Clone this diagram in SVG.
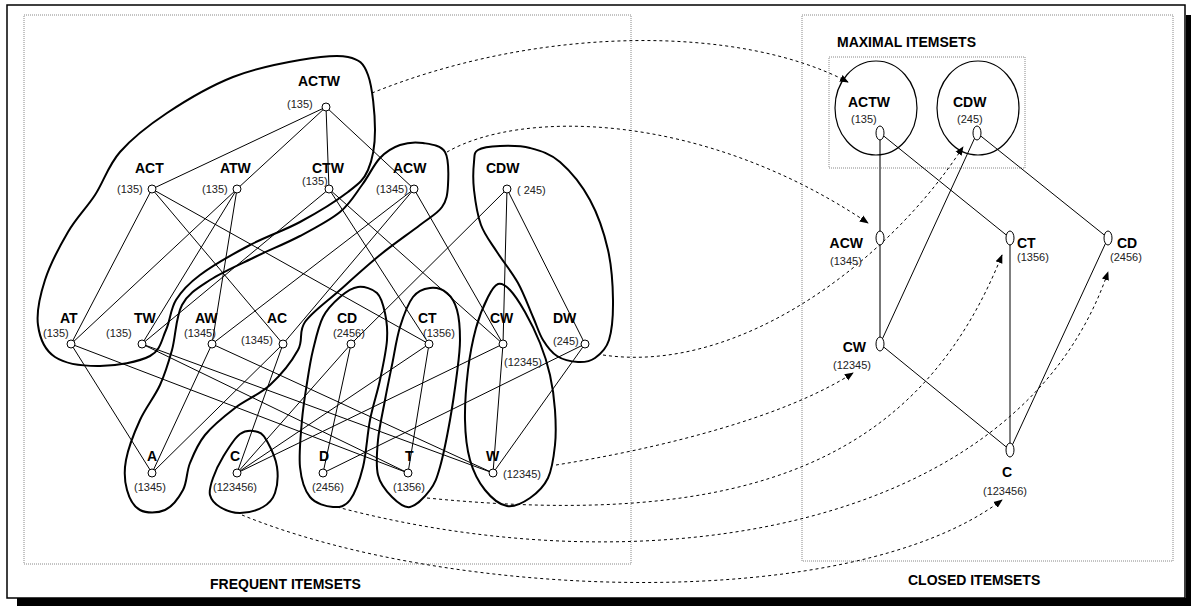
<svg xmlns="http://www.w3.org/2000/svg" width="1191" height="606" viewBox="0 0 1191 606">
<defs>
<marker id="ah" viewBox="0 0 10 10" refX="9" refY="5" markerWidth="9" markerHeight="9" markerUnits="userSpaceOnUse" orient="auto">
<path d="M0,1 L10,5 L0,9 Z" fill="#000"/>
</marker>
<style>
.lbl{font-family:"Liberation Sans",Arial,sans-serif;font-weight:bold;font-size:14px;fill:#000}
.cnt{font-family:"Liberation Sans",Arial,sans-serif;font-size:11px;fill:#222}
.ttl{font-family:"Liberation Sans",Arial,sans-serif;font-weight:bold;font-size:14px;fill:#000}
.e{stroke:#000;stroke-width:1;fill:none}
.hull{stroke:#000;stroke-width:2;fill:none}
.dash{stroke:#000;stroke-width:1;fill:none;stroke-dasharray:3,3;marker-end:url(#ah)}
.dashn{stroke:#000;stroke-width:1;fill:none;stroke-dasharray:3,3}
.n{fill:#fff;stroke:#000;stroke-width:1}
.box{fill:none;stroke:#888;stroke-width:1;stroke-dasharray:1,1}
</style>
</defs>
<rect x="0" y="0" width="1191" height="606" fill="#fff"/>
<!-- frame -->
<rect x="7" y="5" width="1178" height="593" fill="none" stroke="#000" stroke-width="1.5"/>
<rect x="17" y="598" width="1174" height="8" fill="#000"/>
<rect x="1186" y="15" width="5" height="591" fill="#000"/>
<!-- panels -->
<rect class="box" x="24" y="15" width="607" height="549"/>
<rect class="box" x="802" y="15" width="371" height="546"/>
<rect class="box" x="829" y="57" width="196" height="111"/>
<text class="ttl" x="210" y="589">FREQUENT ITEMSETS</text>
<text class="ttl" x="908" y="585">CLOSED ITEMSETS</text>
<text class="ttl" x="837" y="47">MAXIMAL ITEMSETS</text>

<g id="hulls">
<path class="hull" d="M300,60 C319.2,56.7 336.7,54.5 348,57 S363.5,62.8 368,75 S375,114.2 375,130 S372.5,159.7 368,170 S359.3,183.3 348,192 S316.3,213.2 300,222 S266.7,236.2 250,245 S212.3,265.8 200,275 S181.7,290.8 176,300 S170.3,320.7 166,330 S161,350 150,356 S115.8,365.8 100,366 S65.3,363.8 55,357 S39.7,337.8 38,325 S40,295.5 45,280 S59.7,246.2 68,232 S86.3,208.3 95,195 S108,165.7 120,152 S148.2,125.5 167,113 S210.8,85.8 233,77 S280.8,63.3 300,60 Z"/>
<path class="hull" d="M423,143 C430.5,144.2 440.8,145 445,152 S448.5,175.8 448,185 S446.7,200.3 442,207 S430.3,217 420,225 S393.3,244.2 380,255 S352.5,278.8 340,290 S312,312 305,322 S303.8,339.5 298,350 S280.5,375.3 270,385 S245.8,399.7 235,408 S212.5,425.8 205,435 S193.7,453.8 190,463 S187.2,482.2 183,490 S172.2,506.7 165,510 S146.3,513.3 140,510 S129.3,498.3 127,490 S123.8,471.7 126,460 S134.3,432.5 140,420 S154.7,396.7 160,385 S168.3,363.3 172,350 S175.7,316.7 182,305 S197.8,288 210,280 S240,264.3 255,257 S285.8,243.5 300,236 S329.7,220.5 340,212 S355.3,194 362,185 S373.7,164.7 380,158 S392.8,147.5 400,145 S415.5,141.8 423,143 Z"/>
<path class="hull" d="M478,150 C482.3,147.3 491.3,146.3 500,146 S520,145.3 530,148 S550,153.3 560,162 S582,185.3 590,200 S604.2,233.3 608,250 S612.8,285 613,300 S612,330.3 609,340 S600.2,354.3 595,358 S584.3,362.3 578,362 S562.8,359.7 557,356 S547,346.5 543,340 S537.2,326.5 533,317 S524,293.8 518,283 S503.2,261.7 497,252 S484.8,235.3 481,225 S475.2,200.5 474,190 S473.3,168.7 474,162 S473.7,152.7 478,150 Z"/>
<path class="hull" d="M498,284 C501.7,282.8 505.5,285.3 510,290 S520,303.2 525,312 S535.8,332.5 540,343 S547.5,363.8 550,375 S554.2,398.3 555,410 S556.2,433.7 555,445 S552.2,469.2 548,478 S536.8,493.3 530,498 S514.5,507.3 507,506 S491.2,497.7 485,490 S473.3,471.7 470,460 S465.3,435 465,420 S466.2,385.3 468,370 S472.7,340.2 476,328 S484.3,304.3 488,297 S494.3,285.2 498,284 Z"/>
<path class="hull" d="M430,288 C435.7,287.3 442.5,289.3 447,293 S454.8,302.2 457,310 S460,329.5 460,340 S458.7,359.7 457,373 S452.8,404.3 450,420 S443.3,455.3 440,467 S435,483.3 430,490 S416.3,505.8 410,507 S397.3,502.3 392,497 S380.3,484.5 378,475 S376.8,452.5 378,440 S382.7,412.5 385,400 S389.5,377.2 392,365 S396.5,338.3 400,327 S408,303.5 413,297 S424.3,288.7 430,288 Z"/>
<path class="hull" d="M358,287 C364.2,286.3 372.5,288.7 377,293 S383.3,305.2 385,313 S387.8,328.8 387,340 S382.8,366.7 380,380 S372.8,405.5 370,420 S366.3,453.7 363,467 S355,493.3 350,500 S339.7,507.5 333,507 S315.5,503.7 310,497 S301.3,479.8 300,467 S300.8,434 302,420 S305.2,394.7 307,383 S310.3,361 313,350 S318.5,325.8 323,317 S334.2,302 340,297 S351.8,287.7 358,287 Z"/>
<path class="hull" d="M258,432 C262.7,433.5 264.8,437.2 268,443 S275.8,458.7 277,467 S277.3,486.3 275,493 S268.8,503.7 263,507 S247.2,513 240,513 S225,510 220,507 S211.2,499.8 210,495 S210.8,484.3 213,478 S218.5,464.3 223,457 S234.2,438.2 240,434 S253.3,430.5 258,432 Z"/>
</g>

<g id="connectors">
<!-- left lattice -->
<path class="e" d="M326,107 L152,189 M326,107 L237,189 M326,107 L329,189 M326,107 L414,189
M152,189 L71,344 M152,189 L283,344 M152,189 L429,344
M237,189 L71,344 M237,189 L142,344 M237,189 L212,344
M329,189 L142,344 M329,189 L429,344 M329,189 L503,344
M414,189 L212,344 M414,189 L283,344 M414,189 L503,344
M507,189 L351,344 M507,189 L503,344 M507,189 L585,344
M71,344 L152,473 M71,344 L408,473
M142,344 L408,473 M142,344 L493,473
M212,344 L152,473 M212,344 L493,473
M283,344 L152,473 M283,344 L237,473
M351,344 L237,473 M351,344 L323,473
M429,344 L237,473 M429,344 L408,473
M503,344 L237,473 M503,344 L493,473
M585,344 L323,473 M585,344 L493,473"/>
<!-- right lattice -->
<path d="M880,133 L880,238 L880,344" stroke="#777" stroke-width="2" fill="none"/>
<path class="e" d="M880,133 L1010,238 M977,133 L880,344 M977,133 L1108,238 M1010,238 L1010,450 M880,344 L1010,450 M1108,238 L1010,450"/>
<!-- dashed mappings -->
<path class="dash" d="M372,93 C540,25 740,25 848,82"/>
<path class="dash" d="M447,152 C520,110 700,110 868,223"/>
<path class="dash" d="M603,355 C740,375 890,260 963,147"/>
<path class="dash" d="M556,465 C650,450 780,420 853,373"/>
<path class="dash" d="M427,498 C750,530 920,460 1002,255"/>
<path class="dash" d="M337,507 C650,590 1020,530 1108,272"/>
<path class="dash" d="M242,515 C450,600 850,615 1002,500"/>
</g>

<!-- left nodes -->
<g id="n-ACTW"><circle class="n" cx="326" cy="107" r="4"/><text class="lbl" x="298" y="86">ACTW</text><text class="cnt" x="287" y="108">(135)</text></g>
<g id="n-ACT"><circle class="n" cx="152" cy="189" r="4"/><text class="lbl" x="135" y="173">ACT</text><text class="cnt" x="117" y="193">(135)</text></g>
<g id="n-ATW"><circle class="n" cx="237" cy="189" r="4"/><text class="lbl" x="220" y="173">ATW</text><text class="cnt" x="202" y="193">(135)</text></g>
<g id="n-CTW"><circle class="n" cx="329" cy="189" r="4"/><text class="lbl" x="312" y="173">CTW</text><text class="cnt" x="302" y="185">(135)</text></g>
<g id="n-ACW"><circle class="n" cx="414" cy="189" r="4"/><text class="lbl" x="393" y="173">ACW</text><text class="cnt" x="376" y="193">(1345)</text></g>
<g id="n-CDW"><circle class="n" cx="507" cy="189" r="4"/><text class="lbl" x="486" y="173">CDW</text><text class="cnt" x="517" y="194">( 245)</text></g>
<g id="n-AT"><circle class="n" cx="71" cy="344" r="4"/><text class="lbl" x="60" y="323">AT</text><text class="cnt" x="43" y="337">(135)</text></g>
<g id="n-TW"><circle class="n" cx="142" cy="344" r="4"/><text class="lbl" x="134" y="323">TW</text><text class="cnt" x="106" y="337">(135)</text></g>
<g id="n-AW"><circle class="n" cx="212" cy="344" r="4"/><text class="lbl" x="195" y="323">AW</text><text class="cnt" x="184" y="337">(1345)</text></g>
<g id="n-AC"><circle class="n" cx="283" cy="344" r="4"/><text class="lbl" x="267" y="323">AC</text><text class="cnt" x="241" y="344">(1345)</text></g>
<g id="n-CD"><circle class="n" cx="351" cy="344" r="4"/><text class="lbl" x="337" y="323">CD</text><text class="cnt" x="333" y="337">(2456)</text></g>
<g id="n-CT"><circle class="n" cx="429" cy="344" r="4"/><text class="lbl" x="418" y="323">CT</text><text class="cnt" x="423" y="337">(1356)</text></g>
<g id="n-CW"><circle class="n" cx="503" cy="344" r="4"/><text class="lbl" x="490" y="323">CW</text><text class="cnt" x="504" y="366">(12345)</text></g>
<g id="n-DW"><circle class="n" cx="585" cy="344" r="4"/><text class="lbl" x="553" y="323">DW</text><text class="cnt" x="553" y="345">(245)</text></g>
<g id="n-A"><circle class="n" cx="152" cy="473" r="4"/><text class="lbl" x="147" y="461">A</text><text class="cnt" x="134" y="491">(1345)</text></g>
<g id="n-C"><circle class="n" cx="237" cy="473" r="4"/><text class="lbl" x="230" y="461">C</text><text class="cnt" x="213" y="491">(123456)</text></g>
<g id="n-D"><circle class="n" cx="323" cy="473" r="4"/><text class="lbl" x="319" y="461">D</text><text class="cnt" x="312" y="491">(2456)</text></g>
<g id="n-T"><circle class="n" cx="408" cy="473" r="4"/><text class="lbl" x="405" y="461">T</text><text class="cnt" x="393" y="491">(1356)</text></g>
<g id="n-W"><circle class="n" cx="493" cy="473" r="4"/><text class="lbl" x="486" y="461">W</text><text class="cnt" x="503" y="478">(12345)</text></g>

<!-- right nodes -->
<g id="m-ACTW"><ellipse cx="876" cy="108" rx="41" ry="47" fill="none" stroke="#000" stroke-width="1.2"/><text class="lbl" x="848" y="107">ACTW</text><text class="cnt" x="851" y="123">(135)</text><ellipse class="n" cx="880" cy="133" rx="4" ry="7"/></g>
<g id="m-CDW"><ellipse cx="978" cy="108" rx="41" ry="47" fill="none" stroke="#000" stroke-width="1.2"/><text class="lbl" x="953" y="107">CDW</text><text class="cnt" x="957" y="123">(245)</text><ellipse class="n" cx="977" cy="133" rx="4" ry="7"/></g>
<g id="c-ACW"><ellipse class="n" cx="880" cy="238" rx="4" ry="7"/><text class="lbl" x="863" y="248" text-anchor="end">ACW</text><text class="cnt" x="830" y="265">(1345)</text></g>
<g id="c-CT"><ellipse class="n" cx="1010" cy="238" rx="4" ry="7"/><text class="lbl" x="1017" y="248">CT</text><text class="cnt" x="1017" y="261">(1356)</text></g>
<g id="c-CD"><ellipse class="n" cx="1108" cy="238" rx="4" ry="7"/><text class="lbl" x="1117" y="248">CD</text><text class="cnt" x="1110" y="261">(2456)</text></g>
<g id="c-CW"><ellipse class="n" cx="880" cy="344" rx="4" ry="7"/><text class="lbl" x="866" y="352" text-anchor="end">CW</text><text class="cnt" x="833" y="369">(12345)</text></g>
<g id="c-C"><ellipse class="n" cx="1010" cy="450" rx="4" ry="7"/><text class="lbl" x="1007" y="477" text-anchor="middle">C</text><text class="cnt" x="1005" y="495" text-anchor="middle">(123456)</text></g>
</svg>
